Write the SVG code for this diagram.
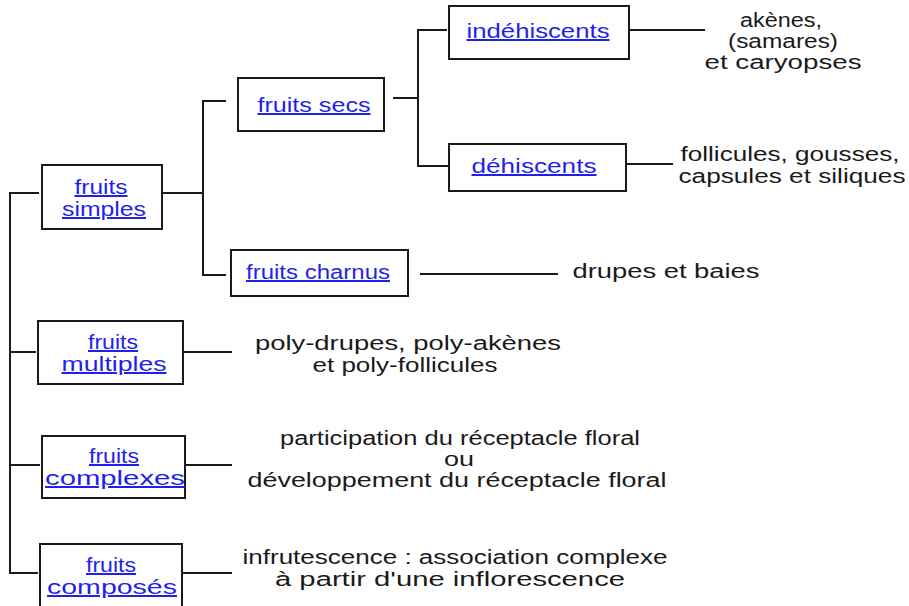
<svg xmlns="http://www.w3.org/2000/svg" width="909" height="606" viewBox="0 0 909 606">
<style>
.box{fill:#fff;stroke:#1a1a1a;stroke-width:2}
.c{fill:none;stroke:#1a1a1a;stroke-width:2}
.lk{font-family:"Liberation Sans",Arial,sans-serif;font-size:20px;fill:#1f1fee;text-decoration:underline;text-anchor:middle}
.t{font-family:"Liberation Sans",Arial,sans-serif;font-size:20px;fill:#1a1a1a;text-anchor:middle}
</style>
<rect width="909" height="606" fill="#fff"/>
<g id="connectors">
<polyline class="c" points="39,193 10,193 10,573 38,573"/>
<line class="c" x1="10" y1="352" x2="36" y2="352"/>
<line class="c" x1="10" y1="465" x2="40" y2="465"/>
<polyline class="c" points="162,193 203,193"/>
<polyline class="c" points="226,101 203,101 203,275 226,275"/>
<polyline class="c" points="393,98 418,98"/>
<polyline class="c" points="447,30 418,30 418,166 449,166"/>
<line class="c" x1="629" y1="30" x2="705" y2="30"/>
<line class="c" x1="626" y1="164" x2="673" y2="164"/>
<line class="c" x1="420" y1="274" x2="558" y2="274"/>
<line class="c" x1="183" y1="352" x2="232" y2="352"/>
<line class="c" x1="185" y1="465" x2="232" y2="465"/>
<line class="c" x1="182" y1="573" x2="232" y2="573"/>
</g>
<g id="fruits-simples">
<rect class="box" x="42" y="165" width="120" height="64"/>
<text class="lk" x="101" y="194" textLength="53" lengthAdjust="spacingAndGlyphs">fruits</text>
<text class="lk" x="104" y="216" textLength="84" lengthAdjust="spacingAndGlyphs">simples</text>
</g>
<g id="fruits-secs">
<rect class="box" x="238" y="78" width="146" height="53"/>
<text class="lk" x="314" y="112" textLength="113" lengthAdjust="spacingAndGlyphs">fruits secs</text>
</g>
<g id="indehiscents">
<rect class="box" x="449" y="6" width="180" height="53"/>
<text class="lk" x="538" y="38" textLength="143" lengthAdjust="spacingAndGlyphs">indéhiscents</text>
</g>
<g id="dehiscents">
<rect class="box" x="449" y="144" width="177" height="47"/>
<text class="lk" x="534" y="173" textLength="125" lengthAdjust="spacingAndGlyphs">déhiscents</text>
</g>
<g id="fruits-charnus">
<rect class="box" x="231" y="250" width="177" height="46"/>
<text class="lk" x="318" y="279" textLength="144" lengthAdjust="spacingAndGlyphs">fruits charnus</text>
</g>
<g id="fruits-multiples">
<rect class="box" x="38" y="321" width="145" height="63"/>
<text class="lk" x="113" y="349" textLength="50" lengthAdjust="spacingAndGlyphs">fruits</text>
<text class="lk" x="114" y="371" textLength="105" lengthAdjust="spacingAndGlyphs">multiples</text>
</g>
<g id="fruits-complexes">
<rect class="box" x="42" y="436" width="143" height="62"/>
<text class="lk" x="114" y="463" textLength="50" lengthAdjust="spacingAndGlyphs">fruits</text>
<text class="lk" x="115" y="485" textLength="140" lengthAdjust="spacingAndGlyphs">complexes</text>
</g>
<g id="fruits-composes">
<rect class="box" x="40" y="544" width="142" height="70"/>
<text class="lk" x="111" y="572" textLength="50" lengthAdjust="spacingAndGlyphs">fruits</text>
<text class="lk" x="112" y="594" textLength="130" lengthAdjust="spacingAndGlyphs">composés</text>
</g>
<g id="labels">
<text class="t" x="781" y="27" textLength="82" lengthAdjust="spacingAndGlyphs">akènes,</text>
<text class="t" x="783" y="48" textLength="110" lengthAdjust="spacingAndGlyphs">(samares)</text>
<text class="t" x="783" y="69" textLength="157" lengthAdjust="spacingAndGlyphs">et caryopses</text>
<text class="t" x="790" y="161" textLength="219" lengthAdjust="spacingAndGlyphs">follicules, gousses,</text>
<text class="t" x="792" y="183" textLength="227" lengthAdjust="spacingAndGlyphs">capsules et siliques</text>
<text class="t" x="666" y="278" textLength="187" lengthAdjust="spacingAndGlyphs">drupes et baies</text>
<text class="t" x="408" y="350" textLength="306" lengthAdjust="spacingAndGlyphs">poly-drupes, poly-akènes</text>
<text class="t" x="405" y="372" textLength="185" lengthAdjust="spacingAndGlyphs">et poly-follicules</text>
<text class="t" x="460" y="445" textLength="360" lengthAdjust="spacingAndGlyphs">participation du réceptacle floral</text>
<text class="t" x="459" y="466" textLength="30" lengthAdjust="spacingAndGlyphs">ou</text>
<text class="t" x="457" y="487" textLength="419" lengthAdjust="spacingAndGlyphs">développement du réceptacle floral</text>
<text class="t" x="455" y="564" textLength="425" lengthAdjust="spacingAndGlyphs">infrutescence : association complexe</text>
<text class="t" x="450" y="586" textLength="350" lengthAdjust="spacingAndGlyphs">à partir d'une inflorescence</text>
</g>
</svg>
